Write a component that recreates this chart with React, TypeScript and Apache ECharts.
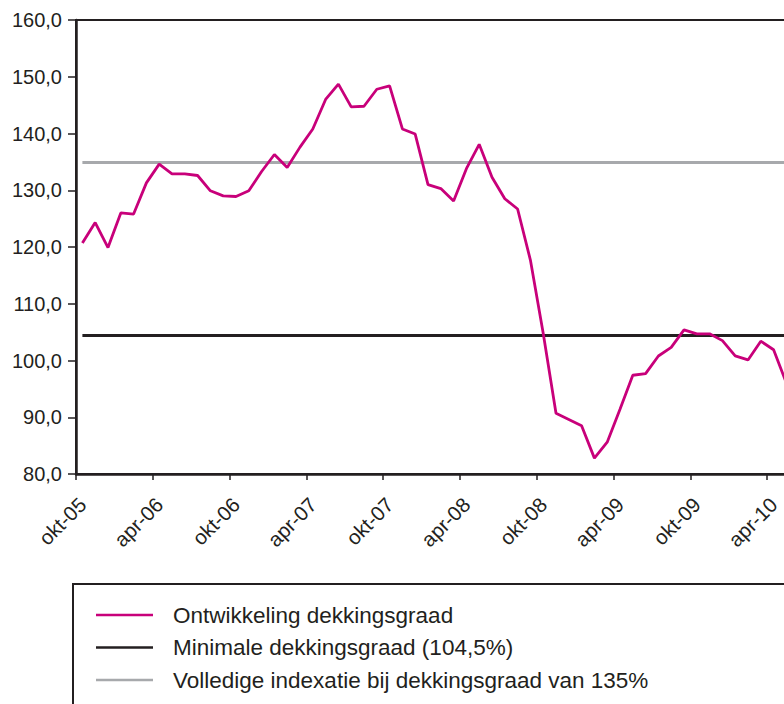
import React, { useEffect, useRef } from "react";
import * as echarts from "echarts";

const MONTHS = ["jan", "feb", "mrt", "apr", "mei", "jun", "jul", "aug", "sep", "okt", "nov", "dec"];
// categories: okt-05 .. dec-10 (monthly)
const CATEGORIES: string[] = [];
for (let y = 2005; y <= 2010; y++) {
  for (let m = 0; m < 12; m++) {
    if (y === 2005 && m < 9) continue;
    CATEGORIES.push(`${MONTHS[m]}-${String(y % 100).padStart(2, "0")}`);
  }
}

const DEKKINGSGRAAD = [
  120.7, 124.3, 119.9, 126.0, 125.8, 131.3, 134.6, 132.9, 132.9, 132.6,
  129.9, 129.0, 128.9, 129.9, 133.3, 136.3, 134.0, 137.6, 140.8, 146.0,
  148.7, 144.7, 144.8, 147.8, 148.4, 140.8, 139.9, 131.0, 130.3, 128.1,
  133.8, 138.1, 132.3, 128.5, 126.7, 117.7, 104.8, 90.7, 89.6, 88.5,
  82.8, 85.6, 91.4, 97.4, 97.7, 100.8, 102.3, 105.4, 104.7, 104.7,
  103.5, 100.8, 100.1, 103.4, 101.9, 96.0,
];
const MINIMALE = 104.5;
const VOLLEDIGE = 135;

const SERIES_NAMES = [
  "Ontwikkeling dekkingsgraad",
  "Minimale dekkingsgraad (104,5%)",
  "Volledige indexatie bij dekkingsgraad van 135%",
];
const COLORS = ["#c8007a", "#231f20", "#a7a9ac"];

const FONT = "Liberation Sans, Arial, sans-serif";
const DARK = "#231f20";

export default function App() {
  const ref = useRef<HTMLDivElement>(null);
  useEffect(() => {
    if (!ref.current) return;
    const chart = echarts.init(ref.current, null, { renderer: "svg" });
    const lastIdx = CATEGORIES.length - 1;
    const ROW_Y = [615, 647.5, 680];
    chart.setOption({
      animation: false,
      grid: {
        left: 76,
        top: 20,
        width: CATEGORIES.length * 12.8,
        height: 454,
        show: true,
        borderColor: DARK,
        borderWidth: 2,
        outerBoundsMode: "none",
      },
      xAxis: {
        type: "category",
        data: CATEGORIES,
        boundaryGap: true,
        axisLine: { lineStyle: { color: DARK, width: 2.5 } },
        axisTick: { show: true, interval: 5, length: 6, lineStyle: { color: DARK, width: 1.5 } },
        axisLabel: {
          interval: 5,
          rotate: 45,
          margin: 27,
          fontSize: 20.5,
          color: DARK,
          fontFamily: FONT,
        },
        splitLine: { show: false },
      },
      yAxis: {
        type: "value",
        min: 80,
        max: 160,
        interval: 10,
        axisLine: { show: true, lineStyle: { color: DARK, width: 2.5 } },
        axisTick: { show: true, length: 8, lineStyle: { color: DARK, width: 1.5 } },
        axisLabel: {
          margin: 14,
          fontSize: 20,
          color: DARK,
          fontFamily: FONT,
          formatter: (v: number) => v.toFixed(1).replace(".", ","),
        },
        splitLine: { show: false },
      },
      series: [
        {
          name: SERIES_NAMES[1],
          type: "line",
          data: [],
          markLine: {
            silent: true,
            symbol: "none",
            label: { show: false },
            lineStyle: { color: COLORS[1], width: 3, type: "solid" },
            data: [[{ coord: [0, MINIMALE] }, { coord: [lastIdx, MINIMALE] }]],
          },
        },
        {
          name: SERIES_NAMES[2],
          type: "line",
          data: [],
          markLine: {
            silent: true,
            symbol: "none",
            label: { show: false },
            lineStyle: { color: COLORS[2], width: 3, type: "solid" },
            data: [[{ coord: [0, VOLLEDIGE] }, { coord: [lastIdx, VOLLEDIGE] }]],
          },
        },
        {
          name: SERIES_NAMES[0],
          type: "line",
          data: DEKKINGSGRAAD,
          symbol: "none",
          lineStyle: { color: COLORS[0], width: 2.8 },
          z: 5,
        },
      ],
      graphic: [
        {
          type: "rect",
          shape: { x: 73, y: 584, width: 900, height: 200 },
          style: { fill: "none", stroke: DARK, lineWidth: 2 },
        },
        ...SERIES_NAMES.flatMap((name, i) => [
          {
            type: "line",
            shape: { x1: 96, y1: ROW_Y[i], x2: 153, y2: ROW_Y[i] },
            style: { stroke: COLORS[i], lineWidth: 2.5 },
          },
          {
            type: "text",
            x: 173,
            y: ROW_Y[i],
            style: {
              text: name,
              fill: DARK,
              font: `22.5px ${FONT}`,
              verticalAlign: "middle",
              align: "left",
            },
          },
        ]),
      ],
    });
    return () => chart.dispose();
  }, []);
  return (
    <div style={{ position: "fixed", left: 0, top: 0, width: 784, height: 704, overflow: "hidden", background: "#fff" }}>
      <div ref={ref} style={{ position: "absolute", left: 0, top: 0, width: 900, height: 780 }} />
    </div>
  );
}
